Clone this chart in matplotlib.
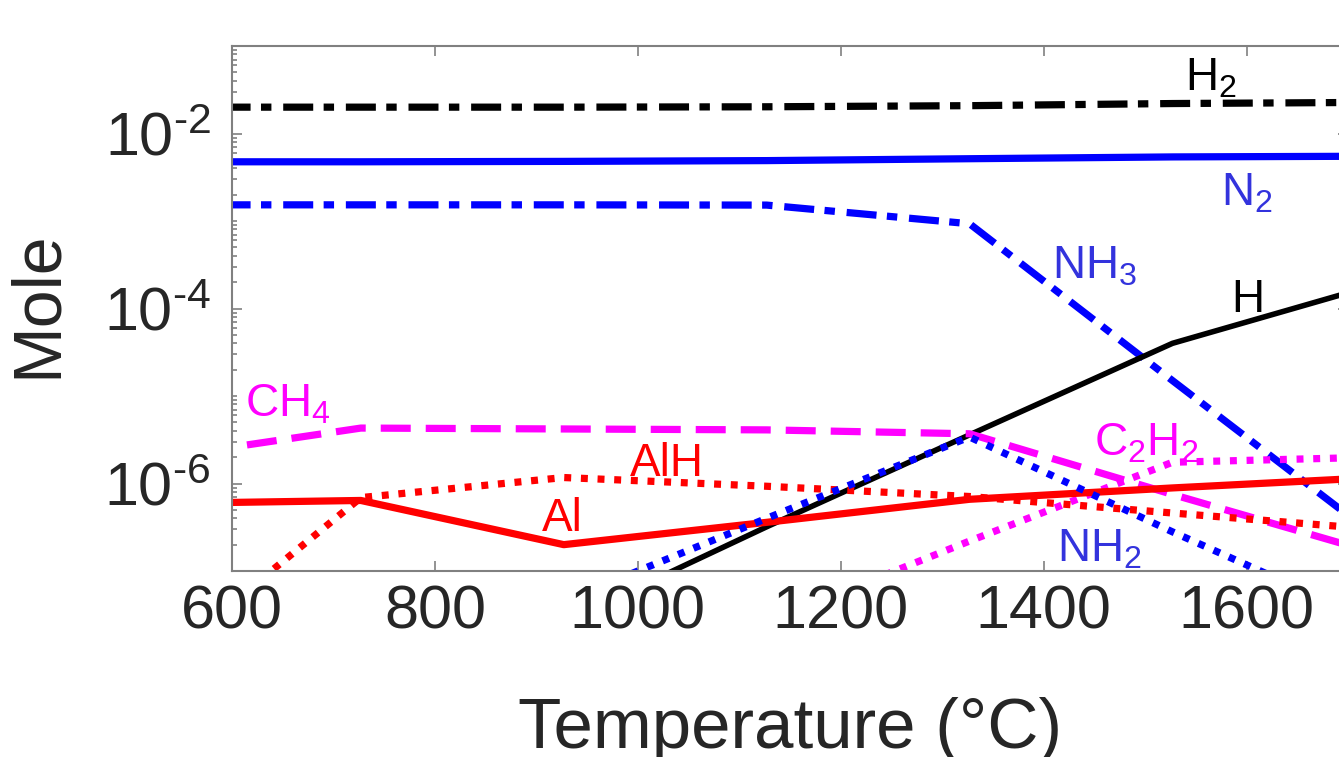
import numpy as np
import matplotlib
matplotlib.use("Agg")
import matplotlib.pyplot as plt
from matplotlib.ticker import FixedLocator, LogLocator, NullFormatter, FixedFormatter

plt.rcParams.update({
    "font.family": ["Liberation Sans", "DejaVu Sans"],
    "mathtext.fontset": "custom",
    "mathtext.rm": "Liberation Sans",
    "mathtext.it": "Liberation Sans:italic",
    "mathtext.default": "regular",
    "lines.scale_dashes": False,
})

# temperatures of the equilibrium points (deg C)
temps = [527, 727, 927, 1127, 1327, 1527, 1727]

h2 = [2.0e-2, 2.0e-2, 2.0e-2, 2.02e-2, 2.08e-2, 2.2e-2, 2.27e-2]
n2 = [4.75e-3, 4.75e-3, 4.8e-3, 4.9e-3, 5.15e-3, 5.4e-3, 5.5e-3]
nh3 = [1.53e-3, 1.53e-3, 1.53e-3, 1.52e-3, 9.3e-4, 1.5e-5, 2.5e-7]
h = [1e-10, 2.2e-9, 2.6e-8, 3.2e-7, 3.6e-6, 4.0e-5, 1.86e-4]
ch4 = [1.95e-6, 4.3e-6, 4.2e-6, 4.1e-6, 3.7e-6, 7.5e-7, 1.6e-7]
c2h2 = [1e-10, 1e-9, 3e-9, 2.6e-8, 2.2e-7, 1.75e-6, 2.0e-6]
al = [5.9e-7, 6.4e-7, 2.0e-7, 3.6e-7, 6.6e-7, 8.9e-7, 1.17e-6]
alh = [8.7e-9, 6.9e-7, 1.17e-6, 9.3e-7, 7.1e-7, 4.6e-7, 3.0e-7]
nh2 = [1e-10, 5e-9, 4.5e-8, 4.0e-7, 3.4e-6, 2.8e-7, 2.6e-8]

# species labels: text, T, mole, colour
labels = [
    ("$H_2$", 1539, 3.1e-2, "black"),
    ("$N_2$", 1575, 1.5e-3, "#3333dd"),
    ("$NH_3$", 1408, 2.2e-4, "#3333dd"),
    ("H", 1585, 9.1e-5, "black"),
    ("$CH_4$", 613, 5.8e-6, "#ff00ff"),
    ("AlH", 992, 1.23e-6, "red"),
    ("Al", 905, 2.9e-7, "red"),
    ("$C_2H_2$", 1450, 2.1e-6, "#ff00ff"),
    ("$NH_2$", 1413, 1.3e-7, "#3333dd"),
]

ytick_vals = [1e-6, 1e-4, 1e-2]
ytick_text = [r"$10^{\text{-6}}$", r"$10^{\text{-4}}$", r"$10^{\text{-2}}$"]
xtick_vals = [600, 800, 1000, 1200, 1400, 1600]

dashdot = (0, (21.6, 7.5, 7.5, 8.5))
dashed = (0, (21.6, 10.8))
dotted = (0, (5, 7))

fig = plt.figure(figsize=(13.39, 7.57), dpi=100)
ax = fig.add_axes([232 / 1339, 1 - 571 / 757, 1116 / 1339, 525 / 757])

lw = 5.2
ax.plot(temps, h2, color="black", ls=dashdot, lw=lw)
ax.plot(temps, n2, color="blue", ls="-", lw=lw)
ax.plot(temps, nh3, color="blue", ls=dashdot, lw=lw)
ax.plot(temps, h, color="black", ls="-", lw=4.0)
ax.plot(temps, ch4, color="#ff00ff", ls=dashed, lw=lw)
ax.plot(temps, c2h2, color="#ff00ff", ls=dotted, lw=lw)
ax.plot(temps, al, color="red", ls="-", lw=lw)
ax.plot(temps, alh, color="red", ls=dotted, lw=lw)
ax.plot(temps, nh2, color="blue", ls=dotted, lw=lw)

for txt, tx, ty, col in labels:
    ax.text(tx, ty, txt, color=col, fontsize=33, ha="left", va="baseline")

ax.set_yscale("log")
ax.set_xlim(600, 1700)
ax.set_ylim(1e-7, 1e-1)

ax.xaxis.set_major_locator(FixedLocator(xtick_vals))
ax.yaxis.set_major_locator(FixedLocator(ytick_vals))
ax.yaxis.set_major_formatter(FixedFormatter(ytick_text))
ax.yaxis.set_minor_locator(LogLocator(base=10, subs=np.arange(1, 10), numticks=100))
ax.yaxis.set_minor_formatter(NullFormatter())

axis_col = "#808080"
for sp in ax.spines.values():
    sp.set_color(axis_col)
    sp.set_linewidth(1.5)
ax.tick_params(which="both", direction="in", top=True, right=True,
               color=axis_col, width=1.2, labelcolor="#262626", labelsize=44)
ax.tick_params(which="major", length=7)
ax.tick_params(which="minor", length=3.5)
ax.tick_params(axis="x", pad=10)
ax.tick_params(axis="y", pad=15)

fig.text(38 / 1339, 1 - 304 / 757, "Mole", rotation=90, ha="center", va="center",
         fontsize=49, color="#262626")
ax.text(0.5, (571 - 748) / 525, "Temperature (°C)", transform=ax.transAxes,
        ha="center", va="baseline", fontsize=51, color="#262626")

fig.savefig("out.png", dpi=100)
